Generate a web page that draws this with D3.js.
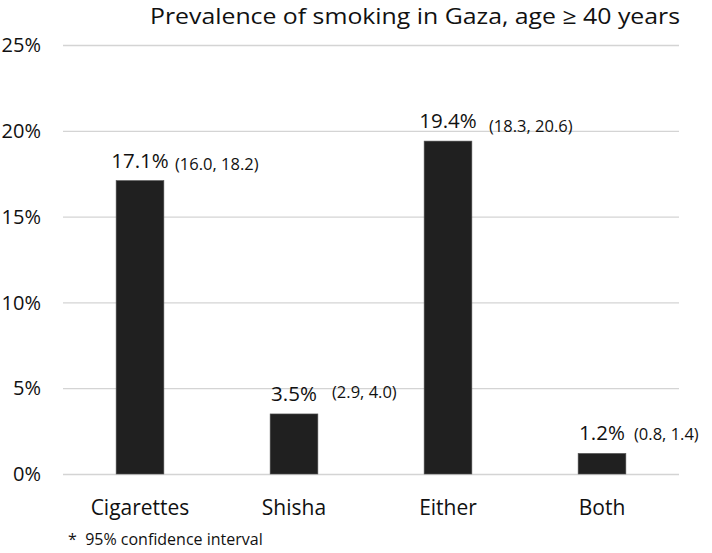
<!DOCTYPE html>
<html>
<head>
<meta charset="utf-8">
<title>Prevalence of smoking in Gaza</title>
<script src="https://d3js.org/d3.v7.min.js"></script>
<style>
  body { margin: 0; background: #fff; }
  text { font-family: "Open Sans", Lato, sans-serif; fill: #111; }
  .grid line { stroke: #d4d4d4; stroke-width: 1.3; }
  .grid .domain { display: none; }
</style>
</head>
<body>
<div id="chart"></div>
<script>
// data
var categories = ["Cigarettes", "Shisha", "Either", "Both"];
var prevalence = [17.1, 3.5, 19.4, 1.2];
var ciLow  = [16.0, 2.9, 18.3, 0.8];
var ciHigh = [18.2, 4.0, 20.6, 1.4];
var yTicks = [0, 5, 10, 15, 20, 25];

var width = 712, height = 553;
var plotLeft = 63, plotRight = 679, plotTop = 45, plotBottom = 474;

var svg = d3.select("#chart").append("svg")
  .attr("width", width)
  .attr("height", height);

var x = d3.scaleBand()
  .domain(categories)
  .range([plotLeft, plotRight])
  .paddingInner(0.69)
  .paddingOuter(0.345);

var y = d3.scaleLinear()
  .domain([0, 25])
  .range([plotBottom, plotTop]);

// gridlines
svg.append("g")
  .attr("class", "grid")
  .attr("transform", "translate(" + plotLeft + ",0)")
  .call(d3.axisLeft(y).tickValues(yTicks).tickSize(-(plotRight - plotLeft)).tickFormat(""));

// y labels
svg.append("g").selectAll("text").data(yTicks).enter().append("text")
  .attr("x", 41)
  .attr("y", function(d){ return y(d); })
  .attr("dy", "0.36em")
  .attr("text-anchor", "end")
  .style("font-size", "20px")
  .text(function(d){ return d + "%"; });

// bars
svg.append("g").selectAll("rect").data(categories).enter().append("rect")
  .attr("x", function(d){ return x(d); })
  .attr("width", x.bandwidth())
  .attr("y", function(d, i){ return y(prevalence[i]); })
  .attr("height", function(d, i){ return y(0) - y(prevalence[i]); })
  .attr("fill", "#202020")
  .attr("stroke", "#555")
  .attr("stroke-width", 0.6);

// value labels
svg.append("g").selectAll("text").data(categories).enter().append("text")
  .attr("x", function(d){ return x(d) + x.bandwidth() / 2; })
  .attr("y", function(d, i){ return y(prevalence[i]) - 13; })
  .attr("text-anchor", "middle")
  .style("font-size", "20.5px")
  .text(function(d, i){ return prevalence[i].toFixed(1) + "%"; });

// confidence interval labels
var ciNudge = [[35, 2], [38, -3], [41, 4], [32, 0]];
svg.append("g").selectAll("text").data(categories).enter().append("text")
  .attr("x", function(d, i){ return x(d) + x.bandwidth() / 2 + ciNudge[i][0]; })
  .attr("y", function(d, i){ return y(prevalence[i]) - 13 + ciNudge[i][1]; })
  .style("font-size", "16.5px")
  .text(function(d, i){ return "(" + ciLow[i].toFixed(1) + ", " + ciHigh[i].toFixed(1) + ")"; });

// x category labels
svg.append("g").selectAll("text").data(categories).enter().append("text")
  .attr("x", function(d){ return x(d) + x.bandwidth() / 2; })
  .attr("y", 515)
  .attr("text-anchor", "middle")
  .style("font-size", "21px")
  .text(function(d){ return d; });

// title
svg.append("text")
  .attr("x", 150)
  .attr("y", 23.5)
  .style("font-size", "22px")
  .attr("textLength", 530)
  .attr("lengthAdjust", "spacingAndGlyphs")
  .text("Prevalence of smoking in Gaza, age \u2265 40 years");

// footnote
svg.append("text")
  .attr("x", 68)
  .attr("y", 545)
  .style("font-size", "16px")
  .attr("xml:space", "preserve")
  .text("*  95% confidence interval");
</script>
</body>
</html>
